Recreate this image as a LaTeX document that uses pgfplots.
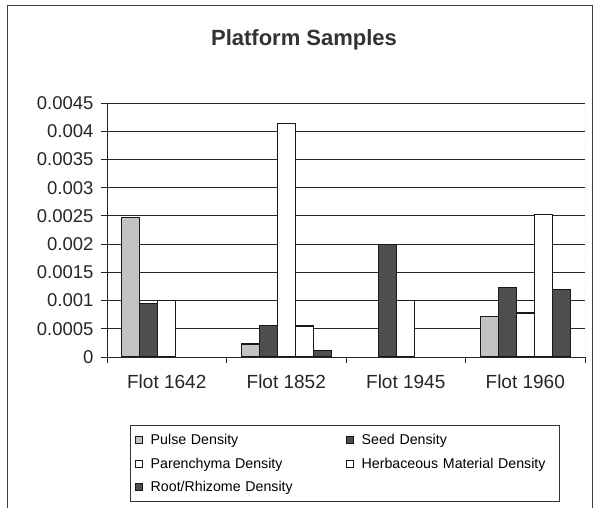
\documentclass[border=0pt]{standalone}
\usepackage{fontspec}
\setmainfont{Liberation Sans}
\usepackage{pgfplots}
\pgfplotsset{compat=1.18}
\definecolor{pulsec}{RGB}{195,195,195}
\definecolor{darkc}{RGB}{78,78,78}
\pgfplotsset{sq/.style={legend image code/.code={\draw[##1,line width=0.9bp,bar shift=0pt] (0bp,-3.5bp) rectangle (7bp,3.5bp);}}}
\begin{document}
\begin{tikzpicture}
\useasboundingbox (0bp,0bp) rectangle (595bp,508bp);
\draw[line width=0.8bp, black!75] (7bp,-5bp) -- (7bp,503bp) -- (592bp,503bp) -- (592bp,-5bp);
\node[font=\fontsize{22bp}{26bp}\selectfont\bfseries, text=black!80] at (304bp,468bp) {Platform Samples};
\begin{axis}[
  at={(107bp,151bp)}, anchor=south west,
  width=478bp, height=254bp, scale only axis,
  xmin=-0.5, xmax=3.5, ymin=0, ymax=0.0045,
  scaled y ticks=false,
  axis lines=left, axis line style={-, line width=0.9bp, black!85},
  ytick={0,0.0005,0.001,0.0015,0.002,0.0025,0.003,0.0035,0.004,0.0045},
  yticklabels={0,0.0005,0.001,0.0015,0.002,0.0025,0.003,0.0035,0.004,0.0045},
  xtick={-0.5,0.5,1.5,2.5,3.5}, xticklabels={},
  extra x ticks={0,1,2,3},
  extra x tick labels={Flot 1642,Flot 1852,Flot 1945,Flot 1960},
  extra x tick style={major tick length=0pt},
  tick align=outside, major tick length=6bp,
  tick style={line width=0.9bp, black!85},
  ymajorgrids, grid style={black!85, line width=0.9bp},
  /pgf/number format/assume math mode=true,
  yticklabel style={font=\fontsize{18.5bp}{20bp}\selectfont, text=black!85, xshift=-4bp},
  xticklabel style={font=\fontsize{19bp}{22bp}\selectfont, text=black!85, yshift=-14bp},
  ybar=0pt, bar width=18bp,
  legend style={at={(0.048,-0.268)}, anchor=north west, legend columns=2,
    draw=black!80, line width=0.8bp, inner xsep=5bp, inner ysep=6.5bp,
    font=\fontsize{14.2bp}{17bp}\selectfont,
    nodes={text width=190bp, align=left, inner sep=2.5bp},
    /tikz/every odd column/.append style={column sep=5bp},
    /tikz/every even column/.append style={column sep=3bp},
    row sep=6.5bp},
  legend cell align=left,
]
\addplot[sq, fill=pulsec, draw=black!90, line width=1.1bp] coordinates {(0,0.00247) (1,0.00023) (3,0.00071)};
\addplot[sq, fill=darkc, draw=black!90, line width=1.1bp] coordinates {(0,0.00094) (1,0.00056) (2,0.0020) (3,0.00123)};
\addplot[sq, fill=white, draw=black!90, line width=1.1bp] coordinates {(0,0.0010) (1,0.00413) (2,0.0010) (3,0.00078)};
\addplot[sq, fill=white, draw=black!90, line width=1.1bp] coordinates {(1,0.00055) (3,0.00252)};
\addplot[sq, fill=darkc, draw=black!90, line width=1.1bp] coordinates {(1,0.00011) (3,0.00119)};
\legend{Pulse Density, Seed Density, Parenchyma Density, Herbaceous Material Density, Root/Rhizome Density}
\draw[black!55, densely dotted, line width=0.9bp] (rel axis cs:1,0) -- (rel axis cs:1,1);
\end{axis}
\end{tikzpicture}
\end{document}
